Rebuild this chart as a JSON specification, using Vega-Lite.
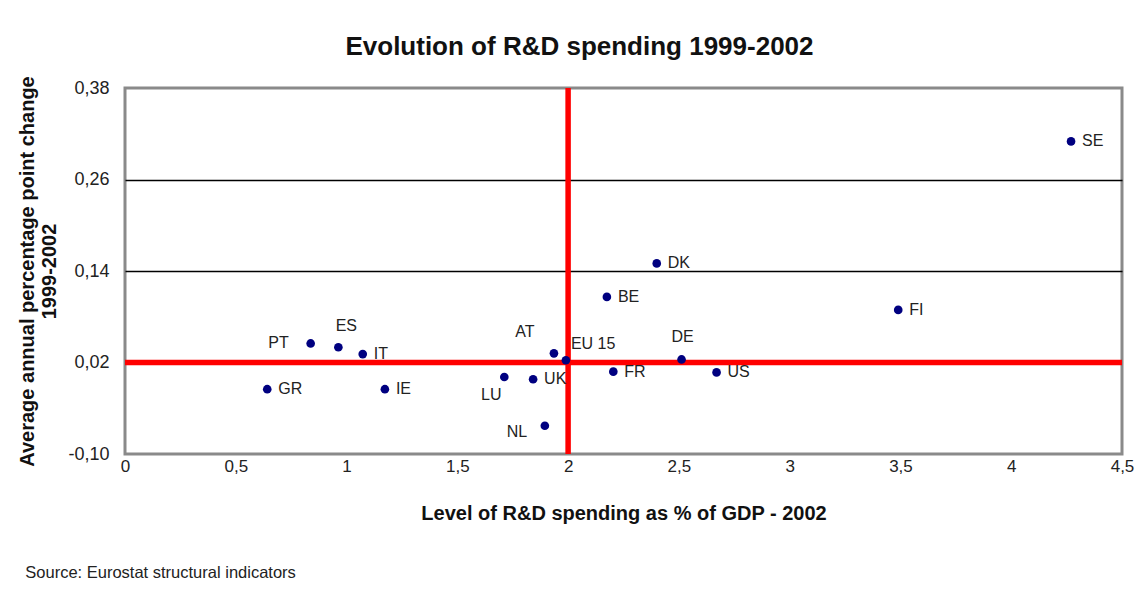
{
  "$schema": "https://vega.github.io/schema/vega-lite/v6.json",
  "width": 997,
  "height": 366,
  "autosize": {"type": "none"},
  "padding": {"left": 125, "top": 88, "right": 19, "bottom": 152},
  "background": "white",
  "title": {
    "text": "Evolution of R&D spending 1999-2002",
    "font": "Liberation Sans",
    "fontSize": 26,
    "fontWeight": "bold",
    "color": "#111111",
    "anchor": "middle",
    "frame": "group",
    "dx": -44,
    "offset": 16
  },
  "config": {
    "font": "Liberation Sans",
    "view": {"stroke": "#8a8a8a", "strokeWidth": 3}
  },
  "datasets": {
    "pts": [
      {"c": "SE", "gdp": 4.27, "chg": 0.310},
      {"c": "DK", "gdp": 2.40, "chg": 0.150},
      {"c": "BE", "gdp": 2.175, "chg": 0.106},
      {"c": "FI", "gdp": 3.49, "chg": 0.089},
      {"c": "PT", "gdp": 0.838, "chg": 0.045},
      {"c": "ES", "gdp": 0.963, "chg": 0.040},
      {"c": "IT", "gdp": 1.073, "chg": 0.031},
      {"c": "AT", "gdp": 1.936, "chg": 0.032},
      {"c": "EU 15", "gdp": 1.99, "chg": 0.023},
      {"c": "DE", "gdp": 2.512, "chg": 0.024},
      {"c": "FR", "gdp": 2.204, "chg": 0.008},
      {"c": "US", "gdp": 2.67, "chg": 0.007},
      {"c": "LU", "gdp": 1.712, "chg": 0.001},
      {"c": "UK", "gdp": 1.842, "chg": -0.002},
      {"c": "NL", "gdp": 1.895, "chg": -0.063},
      {"c": "IE", "gdp": 1.173, "chg": -0.015},
      {"c": "GR", "gdp": 0.642, "chg": -0.015}
    ]
  },
  "layer": [
    {
      "data": {"values": [{"xv": 2}]},
      "mark": {"type": "rule", "color": "#ff0000", "strokeWidth": 5.5},
      "encoding": {
        "x": {"field": "xv", "type": "quantitative", "scale": {"domain": [0, 4.5], "nice": false, "zero": false}}
      }
    },
    {
      "data": {"values": [{"yv": 0.02}]},
      "mark": {"type": "rule", "color": "#ff0000", "strokeWidth": 5.5},
      "encoding": {
        "y": {"field": "yv", "type": "quantitative", "scale": {"domain": [-0.1, 0.38], "nice": false, "zero": false}}
      }
    },
    {
      "data": {"name": "pts"},
      "mark": {"type": "point", "filled": true, "shape": "circle", "size": 75, "color": "#000080", "opacity": 1},
      "encoding": {
        "x": {
          "field": "gdp", "type": "quantitative",
          "scale": {"domain": [0, 4.5], "nice": false, "zero": false},
          "axis": {
            "values": [0, 0.5, 1, 1.5, 2, 2.5, 3, 3.5, 4, 4.5],
            "labelExpr": "replace(format(datum.value, '~g'), '.', ',')",
            "title": "Level of R&D spending as % of GDP - 2002",
            "titleFontSize": 20, "titleFontWeight": "bold", "titleColor": "#111111",
            "titlePadding": 29,
            "labelFontSize": 17, "labelColor": "#222222", "labelPadding": 4, "labelFlush": false,
            "ticks": false, "domain": false, "grid": false
          }
        },
        "y": {
          "field": "chg", "type": "quantitative",
          "scale": {"domain": [-0.1, 0.38], "nice": false, "zero": false},
          "axis": {
            "values": [-0.1, 0.02, 0.14, 0.26, 0.38],
            "labelExpr": "replace(replace(format(datum.value, '.2f'), '.', ','), '\u2212', '-')",
            "title": ["Average annual percentage point change", "1999-2002"],
            "titleFontSize": 20, "titleFontWeight": "bold", "titleColor": "#111111",
            "titleLineHeight": 22, "titlePadding": 8,
            "labelFontSize": 18, "labelColor": "#222222", "labelPadding": 16, "labelFlush": false,
            "ticks": false, "domain": false,
            "grid": true, "gridColor": "#000000", "gridWidth": 1.5,
            "gridOpacity": {"condition": {"test": "datum.value > 0.1 && datum.value < 0.3", "value": 1}, "value": 0}
          }
        }
      }
    },
    {
      "data": {"name": "pts"},
      "transform": [{"filter": {"field": "c", "oneOf": ["SE", "DK", "BE", "FI", "IT", "FR", "US", "UK", "GR", "IE"]}}],
      "mark": {"type": "text", "align": "left", "baseline": "middle", "dx": 11, "fontSize": 16, "color": "#222222"},
      "encoding": {"x": {"field": "gdp", "type": "quantitative"}, "y": {"field": "chg", "type": "quantitative"}, "text": {"field": "c"}}
    },
    {
      "data": {"name": "pts"},
      "transform": [{"filter": {"field": "c", "equal": "PT"}}],
      "mark": {"type": "text", "align": "right", "baseline": "middle", "dx": -22, "fontSize": 16, "color": "#222222"},
      "encoding": {"x": {"field": "gdp", "type": "quantitative"}, "y": {"field": "chg", "type": "quantitative"}, "text": {"field": "c"}}
    },
    {
      "data": {"name": "pts"},
      "transform": [{"filter": {"field": "c", "equal": "ES"}}],
      "mark": {"type": "text", "align": "center", "baseline": "middle", "dx": 8, "dy": -21, "fontSize": 16, "color": "#222222"},
      "encoding": {"x": {"field": "gdp", "type": "quantitative"}, "y": {"field": "chg", "type": "quantitative"}, "text": {"field": "c"}}
    },
    {
      "data": {"name": "pts"},
      "transform": [{"filter": {"field": "c", "equal": "AT"}}],
      "mark": {"type": "text", "align": "center", "baseline": "middle", "dx": -29, "dy": -21, "fontSize": 16, "color": "#222222"},
      "encoding": {"x": {"field": "gdp", "type": "quantitative"}, "y": {"field": "chg", "type": "quantitative"}, "text": {"field": "c"}}
    },
    {
      "data": {"name": "pts"},
      "transform": [{"filter": {"field": "c", "equal": "DE"}}],
      "mark": {"type": "text", "align": "center", "baseline": "middle", "dx": 1, "dy": -22, "fontSize": 16, "color": "#222222"},
      "encoding": {"x": {"field": "gdp", "type": "quantitative"}, "y": {"field": "chg", "type": "quantitative"}, "text": {"field": "c"}}
    },
    {
      "data": {"name": "pts"},
      "transform": [{"filter": {"field": "c", "equal": "EU 15"}}],
      "mark": {"type": "text", "align": "left", "baseline": "middle", "dx": 5, "dy": -16, "fontSize": 16, "color": "#222222"},
      "encoding": {"x": {"field": "gdp", "type": "quantitative"}, "y": {"field": "chg", "type": "quantitative"}, "text": {"field": "c"}}
    },
    {
      "data": {"name": "pts"},
      "transform": [{"filter": {"field": "c", "equal": "LU"}}],
      "mark": {"type": "text", "align": "center", "baseline": "middle", "dx": -13, "dy": 18, "fontSize": 16, "color": "#222222"},
      "encoding": {"x": {"field": "gdp", "type": "quantitative"}, "y": {"field": "chg", "type": "quantitative"}, "text": {"field": "c"}}
    },
    {
      "data": {"name": "pts"},
      "transform": [{"filter": {"field": "c", "equal": "NL"}}],
      "mark": {"type": "text", "align": "center", "baseline": "middle", "dx": -28, "dy": 6, "fontSize": 16, "color": "#222222"},
      "encoding": {"x": {"field": "gdp", "type": "quantitative"}, "y": {"field": "chg", "type": "quantitative"}, "text": {"field": "c"}}
    },
    {
      "data": {"values": [{"t": "Source: Eurostat structural indicators"}]},
      "mark": {"type": "text", "align": "left", "baseline": "middle", "fontSize": 16.5, "color": "#222222"},
      "encoding": {
        "x": {"datum": -0.45, "type": "quantitative"},
        "y": {"datum": -0.256, "type": "quantitative"},
        "text": {"field": "t"}
      }
    }
  ]
}
